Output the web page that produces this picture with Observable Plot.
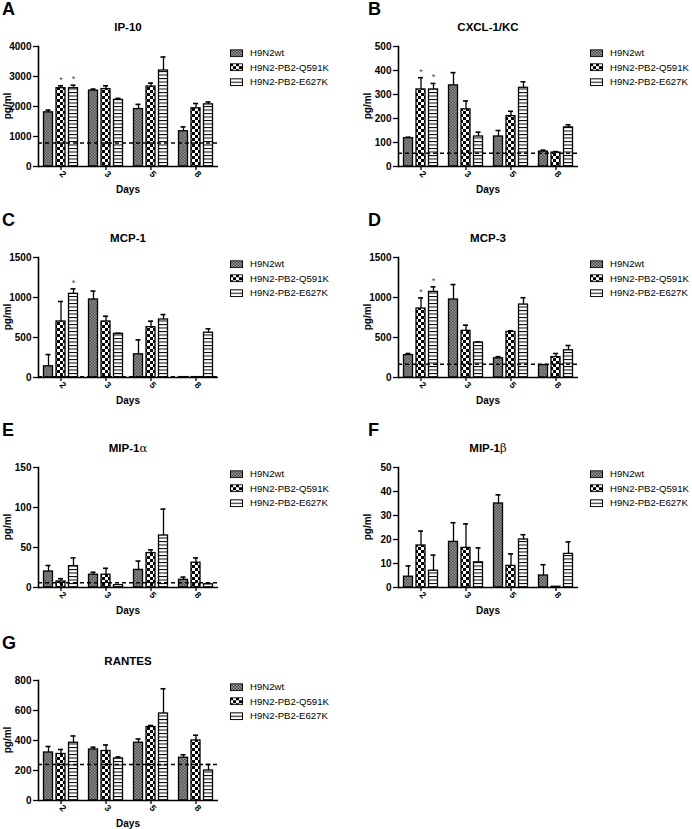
<!DOCTYPE html>
<html><head><meta charset="utf-8">
<script src="https://cdn.jsdelivr.net/npm/d3@7"></script>
<script src="https://cdn.jsdelivr.net/npm/@observablehq/plot@0.6"></script>
<style>
body{margin:0;background:#fff;font-family:"Liberation Sans",Arial,sans-serif;color:#000;}
#wrap{position:relative;width:692px;height:829px;overflow:hidden;}
.abs{position:absolute;white-space:nowrap;line-height:1;}
.letter{font-size:18px;font-weight:bold;transform:translateY(-50%);}
.title{font-size:11.5px;font-weight:bold;transform:translate(-50%,-50%);}
.xlab{font-size:10px;font-weight:bold;transform:translate(-50%,-50%);}
.ylab{font-size:10px;font-weight:bold;transform:translate(-50%,-50%) rotate(-90deg);}
.leg{font-size:9.6px;transform:translateY(-50%);display:flex;align-items:center;}
.leg svg{margin-right:7px;}
</style>
</head><body>
<svg width="0" height="0" style="position:absolute">
  <defs>
    <pattern id="pWt" width="3" height="3" patternUnits="userSpaceOnUse">
      <rect width="3" height="3" fill="#b0b0b0"/>
      <rect x="0" y="0" width="1.5" height="1.5" fill="#333"/>
      <rect x="1.5" y="1.5" width="1.5" height="1.5" fill="#333"/>
    </pattern>
    <pattern id="pQ" width="6" height="6" patternUnits="userSpaceOnUse">
      <rect width="6" height="6" fill="#fff"/>
      <rect x="0" y="0" width="3" height="3" fill="#000"/>
      <rect x="3" y="3" width="3" height="3" fill="#000"/>
    </pattern>
    <pattern id="pE" width="4" height="3.5" patternUnits="userSpaceOnUse">
      <rect width="4" height="3.5" fill="#fff"/>
      <rect x="0" y="0" width="4" height="1" fill="#000"/>
    </pattern>
  </defs>
</svg>
<div id="wrap"></div>
<script>
// ---------- data ----------
const days = ["2", "3", "5", "8"];
const seriesNames = ["H9N2wt", "H9N2-PB2-Q591K", "H9N2-PB2-E627K"];

// IP-10 (A)
const ip10Mean = [[1805, 2530, 1915, 1175], [2610, 2580, 2665, 1940], [2610, 2220, 3200, 2070]];
const ip10Top  = [[1880, 2580, 2070, 1320], [2690, 2690, 2780, 2100], [2710, 2270, 3650, 2150]];
const ip10Ticks = [0, 1000, 2000, 3000, 4000];
const ip10Base = 785;
const ip10Stars = [[1, 0], [2, 0]];

// CXCL-1/KC (B)
const kcMean = [[118, 338, 125, 62], [321, 238, 210, 58], [321, 125, 328, 163]];
const kcTop  = [[122, 391, 150, 68], [370, 273, 230, 62], [346, 143, 353, 174]];
const kcTicks = [0, 100, 200, 300, 400, 500];
const kcBase = 55;
const kcStars = [[1, 0], [2, 0]];

// MCP-1 (C)
const mcp1Mean = [[140, 975, 290, 5], [700, 700, 629, 5], [1046, 546, 725, 560]];
const mcp1Top  = [[287, 1080, 470, 5], [950, 766, 704, 5], [1108, 552, 787, 609]];
const mcp1Ticks = [0, 500, 1000, 1500];
const mcp1Base = 8;
const mcp1Stars = [[2, 0]];

// MCP-3 (D)
const mcp3Mean = [[280, 975, 240, 155], [862, 583, 570, 255], [1070, 437, 912, 340]];
const mcp3Top  = [[300, 1162, 260, 160], [995, 654, 585, 300], [1133, 445, 997, 400]];
const mcp3Ticks = [0, 500, 1000, 1500];
const mcp3Base = 166;
const mcp3Stars = [[1, 0], [2, 0]];

// MIP-1alpha (E)
const mip1aMean = [[20, 16, 22, 9.6], [7.5, 16, 43, 31], [26.7, 3, 65, 4]];
const mip1aTop  = [[27.5, 19, 33, 13], [11, 24, 47, 37], [37, 3.5, 98, 5]];
const mip1aTicks = [0, 50, 100, 150];
const mip1aBase = 6;
const mip1aStars = [];

// MIP-1beta (F)
const mip1bMean = [[4.5, 19, 35, 5], [17.5, 16.5, 9, 0.3], [7, 10.5, 20, 14]];
const mip1bTop  = [[9, 27, 38.6, 9.5], [23.5, 26.5, 14, 0.3], [13.5, 16.5, 22, 19]];
const mip1bTicks = [0, 10, 20, 30, 40, 50];
const mip1bBase = null;
const mip1bStars = [];

// RANTES (G)
const rantesMean = [[320, 340, 385, 285], [310, 330, 490, 400], [385, 280, 580, 200]];
const rantesTop  = [[360, 355, 410, 305], [340, 370, 500, 435], [430, 290, 745, 240]];
const rantesTicks = [0, 200, 400, 600, 800];
const rantesBase = 240;
const rantesStars = [];

const panels = [
  {letter: "A", title: "IP-10", mean: ip10Mean, top: ip10Top, ticks: ip10Ticks, base: ip10Base, stars: ip10Stars},
  {letter: "B", title: "CXCL-1/KC", mean: kcMean, top: kcTop, ticks: kcTicks, base: kcBase, stars: kcStars},
  {letter: "C", title: "MCP-1", mean: mcp1Mean, top: mcp1Top, ticks: mcp1Ticks, base: mcp1Base, stars: mcp1Stars},
  {letter: "D", title: "MCP-3", mean: mcp3Mean, top: mcp3Top, ticks: mcp3Ticks, base: mcp3Base, stars: mcp3Stars},
  {letter: "E", title: "MIP-1", greek: "α", mean: mip1aMean, top: mip1aTop, ticks: mip1aTicks, base: mip1aBase, stars: mip1aStars},
  {letter: "F", title: "MIP-1", greek: "β", mean: mip1bMean, top: mip1bTop, ticks: mip1bTicks, base: mip1bBase, stars: mip1bStars},
  {letter: "G", title: "RANTES", mean: rantesMean, top: rantesTop, ticks: rantesTicks, base: rantesBase, stars: rantesStars}
];

// ---------- layout ----------
const zeros = [166, 377, 587, 800];
const offs = [-12.5, 0, 12.5];
const fills = ["url(#pWt)", "url(#pQ)", "url(#pE)"];
const wrap = document.getElementById("wrap");

function addDiv(cls, x, y, html) {
  const d = document.createElement("div");
  d.className = "abs " + cls;
  d.style.left = x + "px";
  d.style.top = y + "px";
  d.innerHTML = html;
  wrap.appendChild(d);
  return d;
}

panels.forEach((p, i) => {
  const col = i % 2, row = Math.floor(i / 2);
  const x0 = col * 346;
  const zero = zeros[row];
  const ml = col === 0 ? 38 : 52;
  const mt = 10, mb = 22, plotH = 120;
  const width = ml + 180 + 4;
  const height = mt + plotH + mb;

  const rows = [];
  p.mean.forEach((arr, s) => arr.forEach((v, d) => rows.push({day: days[d], s, mean: v, top: p.top[s][d]})));
  const starRows = p.stars.map(([s, d]) => rows.find(r => r.s === s && r.day === days[d]));

  const marks = [];
  for (let s = 0; s < 3; s++) {
    const r = rows.filter(o => o.s === s);
    marks.push(Plot.ruleX(r, {x: "day", y1: "mean", y2: "top", dx: offs[s], stroke: "#000", strokeWidth: 1.3}));
    marks.push(Plot.tickY(r, {x: "day", y: "top", dx: offs[s], insetLeft: 20, insetRight: 20, stroke: "#000", strokeWidth: 1.6}));
    marks.push(Plot.barY(r, {x: "day", y: "mean", dx: offs[s], insetLeft: 18, insetRight: 18, fill: fills[s], stroke: "#000", strokeWidth: 1.3}));
    const st = starRows.filter(o => o.s === s);
    if (st.length) marks.push(Plot.text(st, {x: "day", y: "top", dx: offs[s], dy: -6, text: () => "*", fontSize: 9, fill: "#444"}));
  }
  if (p.base != null) marks.push(Plot.ruleY([p.base], {stroke: "#000", strokeWidth: 1.6, strokeDasharray: "4,3"}));
  marks.push(Plot.ruleY([0], {stroke: "#000", strokeWidth: 1.6}));
  marks.push(Plot.frame({anchor: "left", stroke: "#000", strokeWidth: 1.6}));
  marks.push(Plot.axisY({ticks: p.ticks, tickSize: 5, tickPadding: 2, tickFormat: d => String(d), fontWeight: "bold", fontSize: 10, label: null, strokeWidth: 1.3}));
  marks.push(Plot.axisX({tickSize: 4, tickPadding: 2, tickRotate: 45, fontWeight: "bold", fontSize: 9, label: null, strokeWidth: 1.3}));

  const svg = Plot.plot({
    width, height,
    marginLeft: ml, marginRight: 4, marginTop: mt, marginBottom: mb,
    x: {domain: days, padding: 0},
    y: {domain: [0, p.ticks[p.ticks.length - 1]]},
    style: {fontFamily: "'Liberation Sans', Arial, sans-serif", fontSize: "10px", overflow: "visible", background: "transparent"},
    marks
  });
  svg.style.position = "absolute";
  svg.style.left = x0 + "px";
  svg.style.top = (zero - plotH - mt) + "px";
  wrap.appendChild(svg);

  const cx = x0 + ml + 90;
  addDiv("letter", x0 + (col === 0 ? 2 : 22), zero - 157, p.letter);
  addDiv("title", cx, zero - 138, p.greek ? `${p.title}<span style="font-weight:normal;font-family:'DejaVu Serif',serif">${p.greek}</span>` : p.title);
  addDiv("xlab", cx, zero + 24, "Days");
  addDiv("ylab", x0 + (col === 0 ? 8 : 22), zero - 60, "pg/ml");

  const lx = x0 + (col === 0 ? 230 : 244);
  const ly = [zero - 113, zero - 98.5, zero - 84];
  seriesNames.forEach((name, s) => {
    addDiv("leg", lx, ly[s],
      `<svg width="13" height="8"><rect x="0.5" y="0.5" width="12" height="7" fill="${fills[s]}" stroke="#000" stroke-width="1"/></svg><span>${name}</span>`);
  });
});
</script>
</body></html>
